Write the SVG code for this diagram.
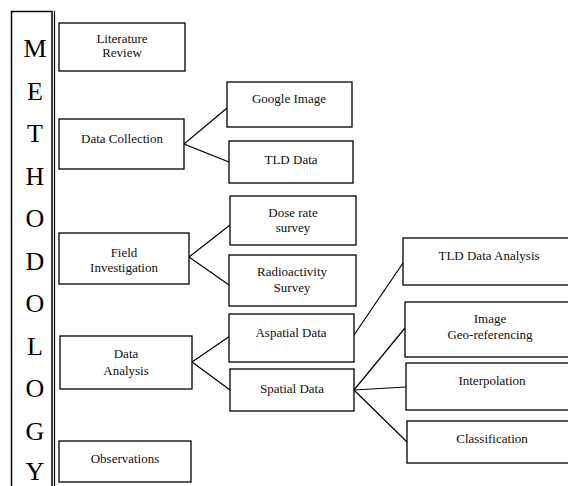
<svg xmlns="http://www.w3.org/2000/svg" width="568" height="486" viewBox="0 0 568 486">
<style>
.b{fill:#fff;stroke:#000;stroke-width:1.3}
.t{font-family:"Liberation Serif","Times New Roman",serif;font-size:13px;fill:#111;text-anchor:middle}
.L{font-family:"Liberation Serif","Times New Roman",serif;font-size:26px;fill:#000;text-anchor:middle}
.c{stroke:#000;stroke-width:1.2;fill:none}
</style>
<rect width="568" height="486" fill="#fff"/>
<g id="methodology">
<rect x="11.5" y="11.5" width="40.5" height="480" fill="#fff" stroke="#000" stroke-width="1.5"/>
<line x1="54.5" y1="11" x2="54.5" y2="486" stroke="#000" stroke-width="1.2"/>
<text class="L" x="35" y="57">M</text>
<text class="L" x="35" y="99.5">E</text>
<text class="L" x="35" y="142">T</text>
<text class="L" x="35" y="184.5">H</text>
<text class="L" x="35" y="227">O</text>
<text class="L" x="35" y="269.5">D</text>
<text class="L" x="35" y="312">O</text>
<text class="L" x="35" y="354.5">L</text>
<text class="L" x="35" y="397">O</text>
<text class="L" x="35" y="439.5">G</text>
<text class="L" x="35" y="480">Y</text>
</g>
<g id="connectors">
<polyline class="c" points="227,108 184,144 229,162"/>
<polyline class="c" points="230,225 189,257 229,285"/>
<polyline class="c" points="230,336 192,362 230,390"/>
<line class="c" x1="354" y1="335" x2="403" y2="263"/>
<line class="c" x1="354" y1="390" x2="405" y2="328"/>
<line class="c" x1="354" y1="390" x2="406" y2="387"/>
<line class="c" x1="354" y1="390" x2="407" y2="442"/>
</g>
<g id="lit"><rect class="b" x="59" y="23" width="126" height="48"/><text class="t" x="122" y="43">Literature</text><text class="t" x="122" y="57">Review</text></g>
<g id="dc"><rect class="b" x="59" y="119" width="125" height="50"/><text class="t" x="122" y="143">Data Collection</text></g>
<g id="fi"><rect class="b" x="59" y="233" width="130" height="51"/><text class="t" x="124" y="257">Field</text><text class="t" x="124" y="272">Investigation</text></g>
<g id="da"><rect class="b" x="60" y="336" width="132" height="53"/><text class="t" x="126" y="358">Data</text><text class="t" x="126" y="375">Analysis</text></g>
<g id="obs"><rect class="b" x="59" y="441" width="132" height="41"/><text class="t" x="125" y="463">Observations</text></g>
<g id="gi"><rect class="b" x="227" y="82" width="125" height="45"/><text class="t" x="289" y="103">Google Image</text></g>
<g id="tld"><rect class="b" x="229" y="141" width="124" height="42"/><text class="t" x="291" y="164">TLD Data</text></g>
<g id="dose"><rect class="b" x="230" y="196" width="126" height="49"/><text class="t" x="293" y="217">Dose rate</text><text class="t" x="293" y="232">survey</text></g>
<g id="rad"><rect class="b" x="229" y="255" width="127" height="51"/><text class="t" x="292" y="276">Radioactivity</text><text class="t" x="292" y="292">Survey</text></g>
<g id="asp"><rect class="b" x="229" y="314" width="125" height="48"/><text class="t" x="291" y="337">Aspatial Data</text></g>
<g id="sp"><rect class="b" x="230" y="369" width="124" height="42"/><text class="t" x="292" y="393">Spatial Data</text></g>
<g id="tlda"><rect class="b" x="403" y="238" width="175" height="47"/><text class="t" x="489" y="260">TLD Data Analysis</text></g>
<g id="geo"><rect class="b" x="405" y="302" width="175" height="55"/><text class="t" x="490" y="323">Image</text><text class="t" x="490" y="339">Geo-referencing</text></g>
<g id="interp"><rect class="b" x="406" y="363" width="175" height="47"/><text class="t" x="492" y="385">Interpolation</text></g>
<g id="class"><rect class="b" x="407" y="421" width="175" height="42"/><text class="t" x="492" y="443">Classification</text></g>
</svg>
